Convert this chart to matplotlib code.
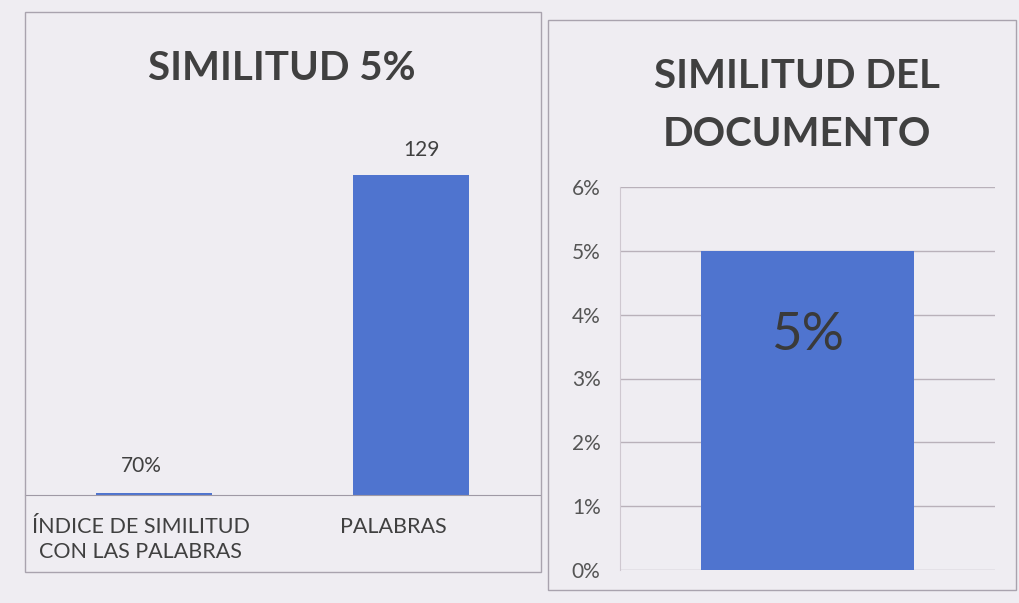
import numpy as np
import matplotlib.pyplot as plt
from matplotlib.patches import Rectangle

# datos del grafico izquierdo
cats_left = ["ÍNDICE DE SIMILITUD\nCON LAS PALABRAS", "PALABRAS"]
vals_left = [0.7, 129]
labels_left = ["70%", "129"]

# datos del grafico derecho
cats_right = ["DOCUMENTO"]
vals_right = [0.05]
label_right = "5%"
yticks_right = [0, 0.01, 0.02, 0.03, 0.04, 0.05, 0.06]

W, H = 1019, 603
bg = "#efedf2"
azul = "#4f74cf"
gris = "#404040"
plt.rcParams['font.family'] = ['Lato', 'DejaVu Sans']


def caja(x0, y0, x1, y1):
    # convierte pixeles (origen arriba-izquierda) a fracciones de figura
    return [x0 / W, 1 - y1 / H, (x1 - x0) / W, (y1 - y0) / H]


fig = plt.figure(figsize=(W / 100, H / 100), dpi=100, facecolor=bg)

# marcos de los dos paneles
for (x0, y0, x1, y1) in [(25, 12, 541, 572), (548, 20, 1016, 590)]:
    r = caja(x0, y0, x1, y1)
    fig.patches.append(Rectangle((r[0], r[1]), r[2], r[3], transform=fig.transFigure,
                                 fill=False, edgecolor="#a9a3ae", linewidth=1.0))

# ---- grafico izquierdo ----
ax1 = fig.add_axes(caja(25, 150, 540, 495))
ax1.set_facecolor("none")
x = np.arange(len(cats_left))
ax1.bar(x, vals_left, width=0.45, color=azul)
ax1.set_xlim(-0.5, 1.5)
ax1.set_ylim(0, 139)
ax1.text(x[0] - 0.05, vals_left[0] + 7, labels_left[0], ha="center", va="bottom",
         fontsize=15, color=gris)
ax1.text(x[1] + 0.04, vals_left[1] + 6, labels_left[1], ha="center", va="bottom",
         fontsize=15, color=gris)
# las etiquetas del eje van un poco a la izquierda, como en el original
ax1.set_xticks(x + np.array([-0.05, -0.07]))
ax1.set_xticklabels(cats_left, fontsize=15.5, color=gris, linespacing=1.3)
ax1.tick_params(axis="x", length=0, pad=16)
ax1.set_yticks([])
for s in ["top", "right", "left"]:
    ax1.spines[s].set_visible(False)
ax1.spines["bottom"].set_color("#9f99a5")
fig.text(282 / W, 1 - 68 / H, "SIMILITUD 5%", ha="center", va="center",
         fontsize=29, fontweight="bold", color=gris)

# ---- grafico derecho ----
ax2 = fig.add_axes(caja(620, 187, 995, 570))
ax2.set_facecolor("none")
ax2.bar([0], vals_right, width=0.57, color=azul, zorder=2)
ax2.set_xlim(-0.5, 0.5)
ax2.set_ylim(0, 0.06)
ax2.set_yticks(yticks_right)
ax2.set_yticklabels([f"{int(round(v * 100))}%" for v in yticks_right],
                    fontsize=15, color="#555555")
ax2.tick_params(axis="y", length=0, pad=14)
ax2.set_xticks([])
ax2.grid(axis="y", color="#b9b1ba", linewidth=1.0, zorder=0)
ax2.text(0.0, 0.0368, label_right, ha="center", va="center", fontsize=38, color="#3a3a3a", zorder=3)
for s in ["top", "right", "bottom"]:
    ax2.spines[s].set_visible(False)
ax2.spines["left"].set_color("#cfc8d0")
fig.text(797 / W, 1 - 106 / H, "SIMILITUD DEL\nDOCUMENTO", ha="center", va="center",
         fontsize=29, fontweight="bold", color=gris, linespacing=1.7)

fig.savefig("out.png", dpi=100, facecolor=bg)
